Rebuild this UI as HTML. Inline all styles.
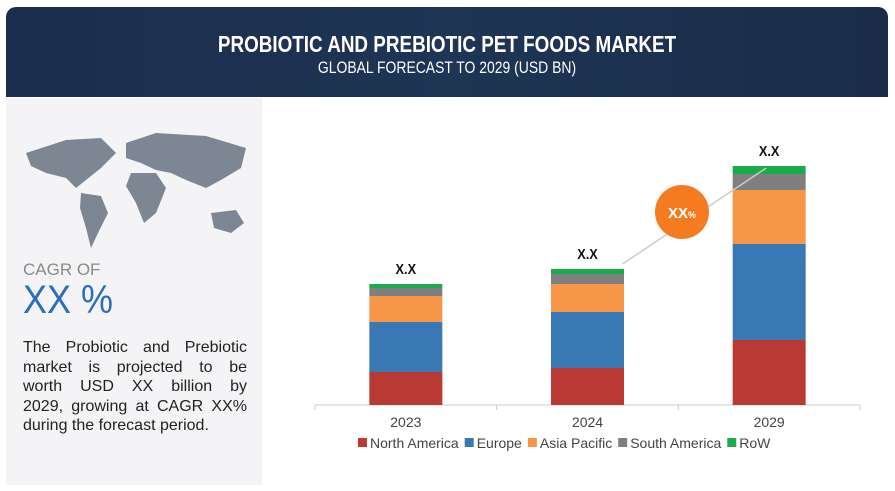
<!DOCTYPE html>
<html><head><meta charset="utf-8"><style>
body{margin:0;width:895px;height:491px;background:#fff;font-family:"Liberation Sans",sans-serif;overflow:hidden;position:relative}
#hdr{position:absolute;left:6px;top:7px;width:882px;height:90px;background:linear-gradient(90deg,#1b2d4c,#1e3556 50%,#1a2c48);border-radius:10px 10px 0 0;color:#fff;text-align:center}
#t1{position:absolute;top:24px;width:100%;font-size:23px;font-weight:bold;transform:scaleX(.82)}
#t2{position:absolute;top:51px;width:100%;font-size:17px;transform:scaleX(.82)}
#left{position:absolute;left:6px;top:98px;width:256px;height:387px;background:#f4f4f6}
#cagr{position:absolute;left:17px;top:162px;font-size:17px;color:#8a8a8a}
#xx{position:absolute;left:17px;top:180px;font-size:40px;color:#2a6fb8;transform:scaleX(.9);transform-origin:left}
#para{position:absolute;left:17px;top:240px;width:224px;font-size:16px;line-height:19.5px;color:#222}
#para div{text-align:justify;text-align-last:justify;white-space:nowrap}
#para div:last-child{text-align-last:left}
</style></head><body>
<div id="hdr">
<div id="t1">PROBIOTIC AND PREBIOTIC PET FOODS MARKET</div>
<div id="t2">GLOBAL FORECAST TO 2029 (USD BN)</div></div>
<div id="left">
<svg width="256" height="140" style="position:absolute;left:0;top:20px">
<g fill="#7d8793"><path d="M20 35 L60 22 L95 20 L110 35 L95 50 L80 62 L70 70 L60 60 L40 55 L25 48Z"/>
<path d="M75 75 L95 78 L102 95 L92 115 L85 130 L80 110 L74 90Z"/>
<path d="M120 25 L150 15 L200 18 L240 30 L235 50 L215 62 L200 70 L180 62 L165 55 L150 52 L135 45 L120 40Z"/>
<path d="M125 55 L150 55 L160 70 L150 95 L138 105 L130 85 L120 68Z"/>
<path d="M205 95 L230 92 L238 105 L225 115 L208 110Z"/></g></svg>
<div id="cagr">CAGR OF</div>
<div id="xx">XX %</div>
<div id="para"><div>The Probiotic and Prebiotic</div><div>market is projected to be</div><div>worth USD XX billion by</div><div>2029, growing at CAGR XX%</div><div>during the forecast period.</div></div>
</div>
<svg id="chart" width="895" height="491" style="position:absolute;left:0;top:0"></svg>
<script>
const categories=["2023","2024","2029"];
const seriesNames=["North America","Europe","Asia Pacific","South America","RoW"];
const northAmerica=[3.3,3.7,6.5];
const europe=[5.0,5.6,9.6];
const asiaPacific=[2.6,2.8,5.4];
const southAmerica=[0.8,1.0,1.6];
const row=[0.4,0.5,0.8];
const totalLabels=["X.X","X.X","X.X"];
const colors=["#b83a32","#3a78b5","#f79646","#7f7f7f","#1aab4b"];
const series=[northAmerica,europe,asiaPacific,southAmerica,row];
const NS="http://www.w3.org/2000/svg",svg=document.getElementById('chart');
const base=405,scale=10,x0=315,x1=860,bw=73;
const yv=v=>base-v*scale;
const bandW=(x1-x0)/categories.length;
const xc=i=>x0+bandW*(i+0.5);
function mk(t,a){const e=document.createElementNS(NS,t);for(const k in a)e.setAttribute(k,a[k]);svg.appendChild(e);return e;}
const ax=mk('line',{x1:x0,x2:x1,y1:base,y2:base,stroke:'#ccc'});


for(let i=0;i<=categories.length;i++){const t=mk('line',{x1:x0+bandW*i,x2:x0+bandW*i,y1:base,y2:base+5,stroke:'#ccc'});

}
const tops=[];
categories.forEach((c,i)=>{let cum=0;const cx=xc(i);
series.forEach((s,j)=>{const r=mk('rect',{x:cx-bw/2,y:yv(cum+s[i]),width:bw,height:s[i]*scale,fill:colors[j]});

cum+=s[i];});
tops.push([cx,yv(cum)]);
const tl=mk('text',{x:cx,y:yv(cum)-10,'text-anchor':'middle','font-size':15,'font-weight':'bold',fill:'#111',transform:'translate('+cx+' 0) scale(0.85 1) translate('+(-cx)+' 0)'});tl.textContent=totalLabels[i];


const xl=mk('text',{x:cx,y:base+22,'text-anchor':'middle','font-size':14,fill:'#444'});xl.textContent=c;

});
const ar=mk('line',{x1:tops[1][0]+35,y1:tops[1][1]-5,x2:tops[2][0]-3,y2:tops[2][1]+2,stroke:'#ccc','stroke-width':1.5});


const bc=mk('circle',{cx:682,cy:212,r:27,fill:'#f47b20'});


const bt=mk('text',{x:682,y:218,'text-anchor':'middle','font-size':15,'font-weight':'bold',fill:'#fff'});bt.innerHTML='XX<tspan font-size="9">%</tspan>';


let lx=358;
seriesNames.forEach((n,j)=>{const r=mk('rect',{x:lx,y:438,width:9,height:9,fill:colors[j]});


const t=mk('text',{x:lx+12,y:448,'font-size':14,fill:'#444'});t.textContent=n;


lx+=12+t.getComputedTextLength()+6;});
</script>
</body></html>
